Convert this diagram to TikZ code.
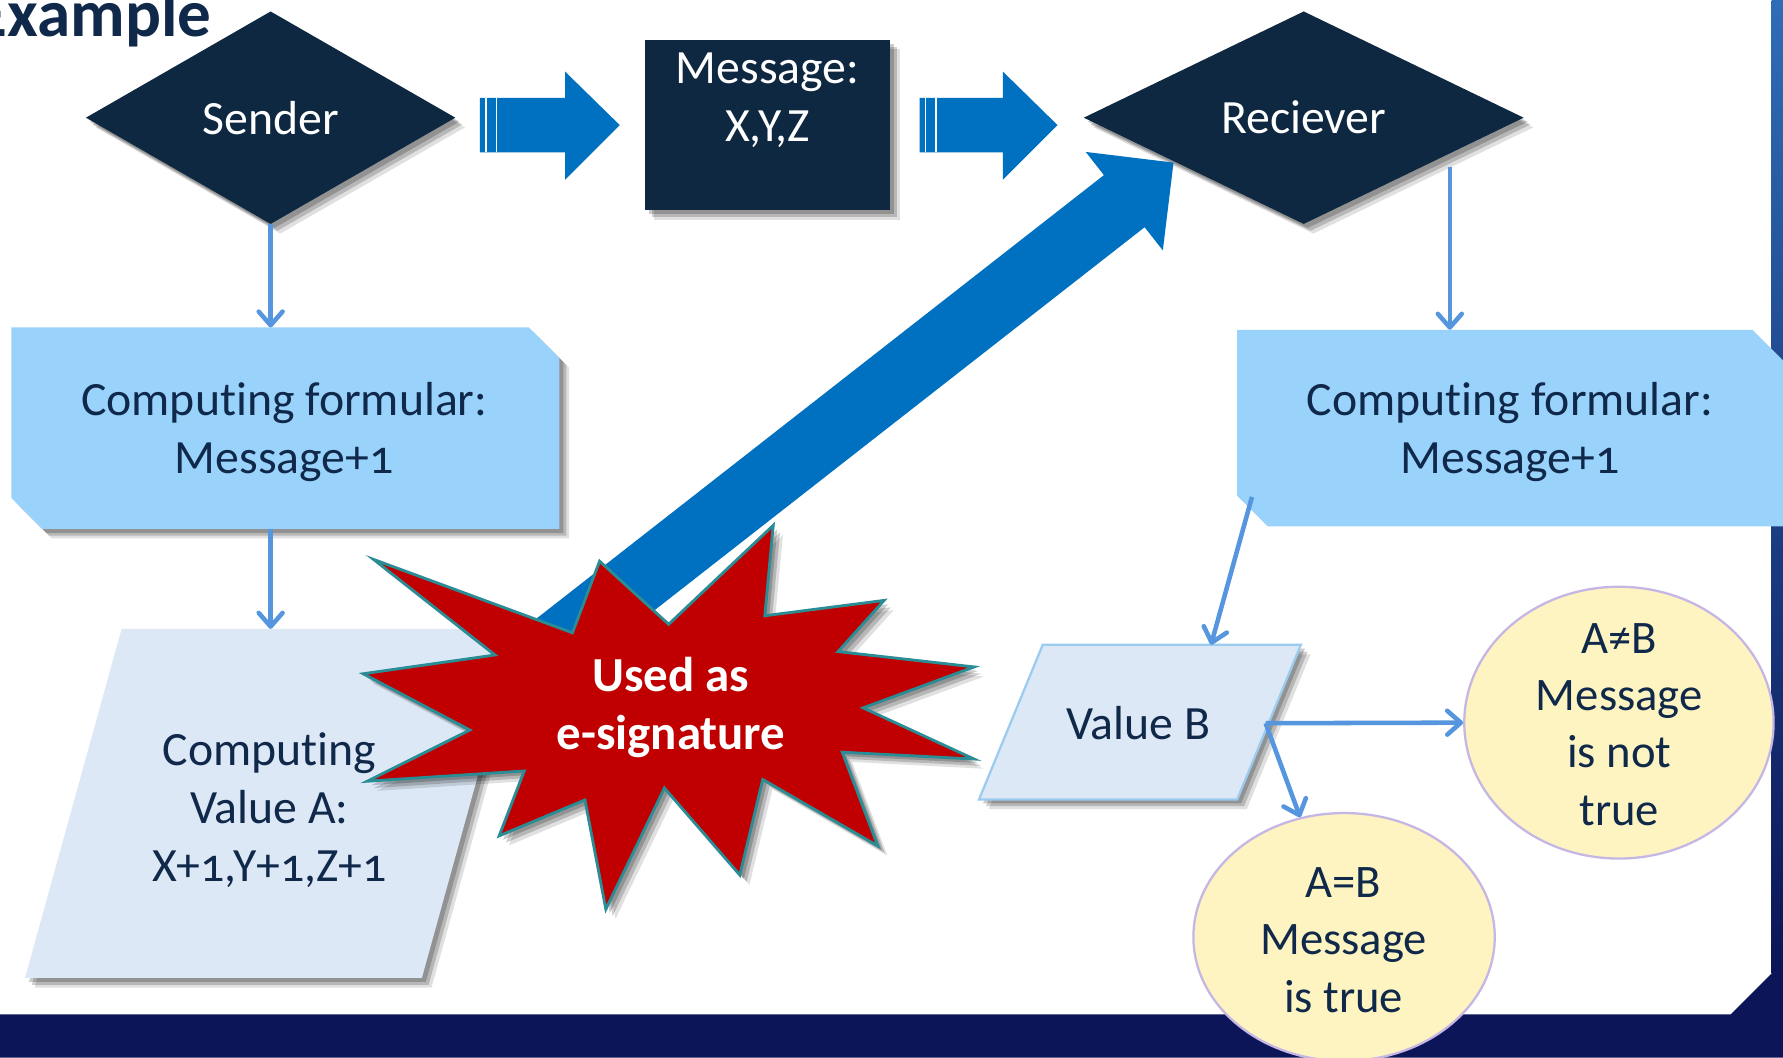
\documentclass[tikz,border=0pt]{standalone}
\usepackage{fontspec}
\setmainfont{Carlito}[Numbers=OldStyle,Ligatures=NoCommon]
\usetikzlibrary{shapes.geometric,shadows,arrows.meta}
\definecolor{navy}{HTML}{0E2841}
\definecolor{txt}{HTML}{10284A}
\definecolor{bblue}{HTML}{0070C0}
\definecolor{lblue}{HTML}{99D3FB}
\definecolor{pblue}{HTML}{DCE8F6}
\definecolor{pbord}{HTML}{9CCBF0}
\definecolor{conncol}{HTML}{5596DE}
\definecolor{sred}{HTML}{C00000}
\definecolor{steal}{HTML}{2A8C94}
\definecolor{ylw}{HTML}{FDF4C1}
\definecolor{lav}{HTML}{C6B6E4}
\definecolor{bandcol}{HTML}{0B1557}
\definecolor{bandtop}{HTML}{2F6DB6}
\begin{document}
\begin{tikzpicture}[x=1pt,y=-1pt,
  shad/.style={
    drop shadow={shadow xshift=3.5pt,shadow yshift=-3.5pt,opacity=0.2,fill=black},
    drop shadow={shadow xshift=6pt,shadow yshift=-6pt,opacity=0.18,fill=black},
    drop shadow={shadow xshift=8.5pt,shadow yshift=-8.5pt,opacity=0.12,fill=black}},
  big/.style={font=\fontsize{42}{51}\selectfont,align=center,inner sep=0pt},
  elltext/.style={font=\fontsize{41}{50.5}\selectfont,align=center,inner sep=0pt,text=txt},
  conn/.style={draw=conncol,line width=4pt,-{Straight Barb[length=12pt,width=21pt,round]}},
  darkbox/.style={fill=navy,draw=none,text=white,shad,inner sep=0pt},
  stripe/.style={draw=white,line width=1.4pt},
  blockarrow/.style={fill=bblue,draw=none},
  ell/.style={ellipse,fill=ylw,draw=lav,line width=2pt,inner sep=0pt}
]
\useasboundingbox (0,0) rectangle (1568,930);
\fill[white] (0,0) rectangle (1568,930);
% frame bands
\fill[bandcol] (0,892) -- (1522,892) -- (1558,856) -- (1568,856) -- (1568,930) -- (0,930) -- cycle;
\shade[top color=bandtop, bottom color=bandcol] (1558,0) rectangle (1568,856);

% title
\node[anchor=base east,font=\fontsize{59}{62}\selectfont\bfseries,text=txt,inner sep=0pt] (title) at (186,32) {Example};

% top row
\node[diamond,darkbox,big,minimum width=325pt,minimum height=187pt] (sender) at (238,103.5) {Sender};
\node[rectangle,darkbox,minimum width=216pt,minimum height=150pt] (msg) at (675,110) {};
\node[big,text=white,anchor=north] (msgtext) at (675,46) {Message:\\X,Y,Z};
\node[diamond,darkbox,big,minimum width=387pt,minimum height=187pt] (rec) at (1146.5,103.5) {Reciever};

% block arrows
\fill[blockarrow] (422,86) -- (497,86) -- (497,63) -- (545,110) -- (497,158) -- (497,134) -- (422,134) -- cycle;
\draw[stripe] (427.5,86) -- (427.5,134);
\draw[stripe] (436.5,86) -- (436.5,134);
\fill[blockarrow] (808.7,86) -- (882,86) -- (882,63) -- (930,110) -- (882,158) -- (882,134) -- (808.7,134) -- cycle;
\draw[stripe] (814,86) -- (814,134);
\draw[stripe] (823.3,86) -- (823.3,134);

% big diagonal arrow
\fill[blockarrow] (1032,143) -- (1022.6,220.2) -- (1006.6,199.8) -- (482.5,609.4) -- (446.7,563.6) -- (970.8,154) -- (954.8,133.6) -- cycle;

% left computing box
\fill[lblue,shad] (10,288) -- (465,288) -- (492,315) -- (492,465) -- (37,465) -- (10,438) -- cycle;
\node[big,text=txt] (fL) at (250,380) {Computing formular:\\Message+1};
% right computing box
\fill[lblue] (1088,290) -- (1541,290) -- (1570,319) -- (1570,463) -- (1115,463) -- (1088,436) -- cycle;
\node[big,text=txt] (fR) at (1328,380) {Computing formular:\\Message+1};

% value A parallelogram
\fill[pblue,shad] (107,553) -- (456,553) -- (371,860) -- (22,860) -- cycle;
\node[big,text=txt] (valA) at (237,712) {Computing\\Value A:\\X+1,Y+1,Z+1};

% value B parallelogram
\path[fill=pblue,draw=pbord,line width=2pt,shad] (917,567) -- (1144,567) -- (1088,703) -- (861,703) -- cycle;
\node[big,text=txt] (vb) at (1001,636) {Value B};

% star
\path[fill=sred,draw=steal,line width=2.5pt,shad,line join=miter]
  (328.6,492) -- (503.4,556.5) -- (527.3,493.5) -- (588,549) -- (680,462) -- (672.6,541.5)
  -- (777.5,528) -- (737,573) -- (856.6,586.5) -- (759.1,622.5) -- (856.6,667.5) -- (740.7,661.5)
  -- (772,744) -- (670.8,685.5) -- (650.6,769.5) -- (584.3,693) -- (532.8,799.5) -- (514.4,703.5)
  -- (439,735) -- (461,678) -- (323,687) -- (413.2,642) -- (319.4,592.5) -- (435.3,576) -- cycle;
\node[font=\fontsize{43}{51}\selectfont\bfseries,align=center,inner sep=0pt,text=white] (sig) at (590,622) {Used as\\e-signature};

% ellipses
\node[ell,minimum width=272pt,minimum height=239pt] (ne) at (1423.7,635.5) {};
\node[elltext] (netext) at (1424,637) {A≠B\\Message\\is not\\true};
\node[ell,minimum width=265pt,minimum height=218pt] (eq) at (1182,824) {};
\node[elltext] (eqtext) at (1181.5,826.5) {A=B\\Message\\is true};

% connector end points
\coordinate (fLtop) at (238,288);
\coordinate (fLbot) at (238,465);
\coordinate (aTop) at (238,553);
\coordinate (recOut) at (1275,147);
\coordinate (fRtop) at (1275,290);
\coordinate (fRout) at (1101,437);
\coordinate (vbTop) at (1065,567);
\coordinate (vbR) at (1113,636);

\draw[conn] (sender.south) -- (fLtop);
\draw[conn] (fLbot) -- (aTop);
\draw[conn] (recOut) -- (fRtop);
\draw[conn] (fRout) -- (vbTop);
\draw[conn] (vbR) -- (ne.west);
\draw[conn] (vbR) -- (eq);
\end{tikzpicture}
\end{document}
